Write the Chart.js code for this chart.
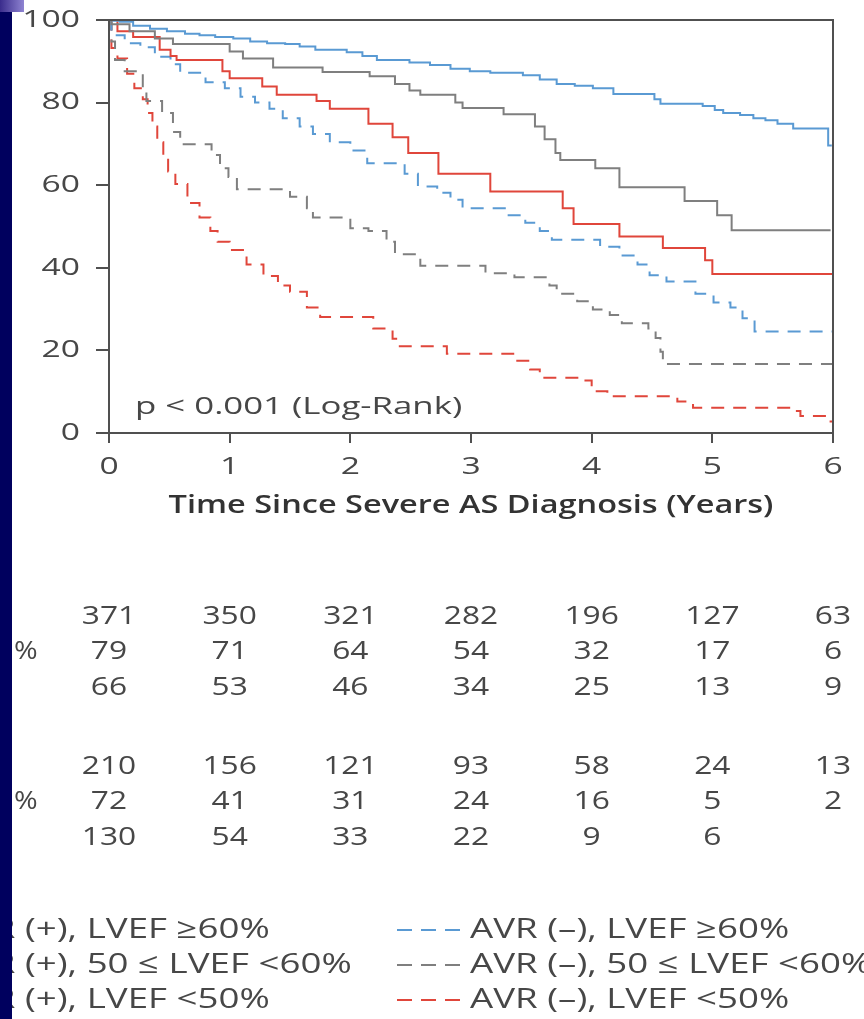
<!DOCTYPE html>
<html>
<head>
<meta charset="utf-8">
<script src="https://cdn.jsdelivr.net/npm/chart.js@4.4.1/dist/chart.umd.min.js"></script>
<style>
  html, body { margin: 0; padding: 0; background: #fff; }
  #wrap { position: relative; width: 864px; height: 1019px; overflow: hidden; }
  #bar { position: absolute; left: 0; top: 0; width: 12px; height: 1019px; background: #00005e; }
  #corner { position: absolute; left: 0; top: 0; width: 24px; height: 12px; background: linear-gradient(to right, #3a2c8c, #8f84d2); }
</style>
</head>
<body>
<div id="wrap">
  <canvas id="km" width="864" height="1019"></canvas>
  <div id="bar"></div>
  <div id="corner"></div>
</div>
<script>
// survival curves, time in years and event-free survival in %
const avrPosHighT = [0, 0.04, 0.09, 0.2, 0.34, 0.48, 0.63, 0.75, 0.88, 1.03, 1.17, 1.31, 1.46, 1.58, 1.71, 1.97, 2.1, 2.22, 2.49, 2.66, 2.83, 2.99, 3.16, 3.43, 3.57, 3.71, 3.86, 4.01, 4.18, 4.52, 4.57, 4.92, 5.02, 5.09, 5.23, 5.34, 5.44, 5.54, 5.67, 5.96, 5.99]
const avrPosHighS = [100, 99.8, 99.6, 98.6, 97.9, 97.3, 96.7, 96.3, 95.9, 95.5, 94.8, 94.4, 94.2, 93.6, 92.8, 92.2, 91.3, 90.3, 89.7, 89.1, 88.2, 87.6, 87.2, 86.6, 85.6, 84.5, 84.1, 83.5, 82.1, 80.8, 79.7, 79.2, 78.2, 77.5, 77.0, 76.2, 75.7, 74.9, 73.7, 69.6, 69.6]

const avrPosMidT = [0, 0.02, 0.17, 0.38, 0.53, 1.0, 1.11, 1.36, 1.77, 2.16, 2.37, 2.49, 2.58, 2.87, 2.93, 3.27, 3.53, 3.61, 3.7, 3.74, 4.03, 4.23, 4.77, 5.04, 5.16, 5.98]
const avrPosMidS = [100, 99.0, 97.3, 95.5, 94.2, 92.4, 90.7, 88.5, 87.4, 86.4, 84.5, 82.9, 81.9, 80.0, 78.7, 77.2, 74.2, 71.1, 67.8, 66.1, 64.1, 59.5, 56.2, 52.7, 49.1, 49.1]

const avrPosLowT = [0, 0.07, 0.2, 0.42, 0.51, 0.56, 0.94, 1.0, 1.27, 1.39, 1.72, 1.83, 2.15, 2.35, 2.48, 2.73, 3.16, 3.76, 3.85, 4.23, 4.59, 4.94, 5.0, 6.0]
const avrPosLowS = [100, 97.3, 95.9, 92.8, 91.3, 90.3, 87.6, 85.9, 83.9, 81.9, 80.4, 78.5, 74.9, 71.6, 67.8, 62.8, 58.5, 54.4, 50.6, 47.6, 44.8, 41.8, 38.5, 38.5]

const avrNegHighT = [0, 0.02, 0.13, 0.26, 0.38, 0.51, 0.59, 0.8, 0.96, 1.09, 1.21, 1.33, 1.44, 1.58, 1.69, 1.83, 2.0, 2.14, 2.45, 2.56, 2.72, 2.83, 2.93, 3.28, 3.45, 3.57, 3.67, 4.07, 4.23, 4.38, 4.48, 4.62, 4.86, 5.01, 5.15, 5.25, 5.35, 6.0]
const avrNegHighS = [100, 96.3, 94.4, 93.4, 91.1, 89.3, 87.2, 84.9, 83.5, 81.4, 80.0, 78.5, 76.2, 74.2, 72.4, 70.4, 68.4, 65.3, 62.8, 59.7, 58.2, 56.5, 54.4, 52.7, 50.9, 48.9, 46.8, 45.1, 43.0, 40.8, 38.2, 36.7, 33.7, 31.6, 30.4, 27.8, 24.6, 24.6]

const avrNegMidT = [0, 0.02, 0.05, 0.13, 0.28, 0.31, 0.44, 0.53, 0.59, 0.85, 0.92, 0.99, 1.06, 1.5, 1.64, 1.69, 2.0, 2.15, 2.3, 2.37, 2.58, 3.12, 3.36, 3.65, 3.71, 3.88, 4.01, 4.15, 4.25, 4.47, 4.53, 4.57, 4.59, 6.0]
const avrNegMidS = [100, 94.8, 90.3, 87.6, 82.5, 80.4, 77.5, 72.9, 69.9, 67.3, 64.1, 62.0, 59.0, 57.2, 54.4, 52.2, 49.6, 48.9, 46.3, 43.3, 40.5, 38.7, 37.7, 35.7, 33.7, 31.9, 29.9, 28.6, 26.6, 25.3, 23.0, 19.7, 16.7, 16.7]

const avrNegLowT = [0, 0.02, 0.07, 0.15, 0.21, 0.28, 0.32, 0.36, 0.4, 0.45, 0.49, 0.55, 0.65, 0.75, 0.84, 0.9, 1.0, 1.14, 1.28, 1.4, 1.5, 1.64, 1.75, 2.19, 2.35, 2.41, 2.8, 3.35, 3.49, 3.57, 3.93, 4.0, 4.13, 4.71, 4.84, 5.69, 5.73, 5.98, 6.0]
const avrNegLowS = [100, 93.2, 90.7, 87.0, 83.5, 80.8, 77.5, 74.2, 70.4, 66.6, 63.3, 60.3, 55.7, 52.2, 48.9, 46.3, 44.3, 40.8, 38.0, 35.7, 34.2, 30.4, 28.1, 25.3, 22.8, 21.0, 19.2, 17.5, 15.4, 13.4, 12.7, 10.1, 8.9, 7.6, 6.1, 5.3, 4.1, 2.8, 2.8]

// numbers at risk, one value per year tick
const riskPosTotal = [371, 350, 321, 282, 196, 127, 63]
const riskPosMid = [79, 71, 64, 54, 32, 17, 6]
const riskPosLow = [66, 53, 46, 34, 25, 13, 9]
const riskNegTotal = [210, 156, 121, 93, 58, 24, 13]
const riskNegMid = [72, 41, 31, 24, 16, 5, 2]
const riskNegLow = [130, 54, 33, 22, 9, 6]

const legendLeft = ['AVR (+), LVEF \u226560%', 'AVR (+), 50 \u2264 LVEF <60%', 'AVR (+), LVEF <50%']
const legendRight = ['AVR (\u2013), LVEF \u226560%', 'AVR (\u2013), 50 \u2264 LVEF <60%', 'AVR (\u2013), LVEF <50%']

const BLUE = '#5a9ad3'
const GRAY = '#7f7f7f'
const RED = '#e0463b'
const AXIS = '#505050'
const TEXT = '#474747'
const FONT = "'Open Sans', 'Noto Sans', sans-serif"

const toPoints = (t, s) => t.map((x, i) => ({ x: x, y: s[i] }))

const series = [
  { t: avrPosHighT, s: avrPosHighS, color: BLUE, dash: [] },
  { t: avrPosMidT, s: avrPosMidS, color: GRAY, dash: [] },
  { t: avrPosLowT, s: avrPosLowS, color: RED, dash: [] },
  { t: avrNegHighT, s: avrNegHighS, color: BLUE, dash: [13, 9] },
  { t: avrNegMidT, s: avrNegMidS, color: GRAY, dash: [13, 9] },
  { t: avrNegLowT, s: avrNegLowS, color: RED, dash: [13, 9] }
]

// the source figure is stretched sideways, so text is drawn wider than its font
function wideText(ctx, text, x, y, sx, align) {
  ctx.save()
  ctx.translate(x, y)
  ctx.scale(sx, 1)
  ctx.textAlign = align
  ctx.fillText(text, 0, 0)
  ctx.restore()
}

const extras = {
  id: 'extras',
  afterDraw(chart) {
    const { ctx, chartArea } = chart
    const xs = chart.scales.x
    const ys = chart.scales.y
    ctx.save()

    // top and right frame
    ctx.strokeStyle = AXIS
    ctx.lineWidth = 2
    ctx.beginPath()
    ctx.moveTo(chartArea.left, chartArea.top)
    ctx.lineTo(chartArea.right, chartArea.top)
    ctx.lineTo(chartArea.right, chartArea.bottom)
    ctx.stroke()

    ctx.fillStyle = TEXT
    ctx.textBaseline = 'middle'

    // tick labels
    ctx.font = '24px ' + FONT
    ys.ticks.forEach(t => wideText(ctx, String(t.value), 80, ys.getPixelForValue(t.value), 1.4, 'right'))
    xs.ticks.forEach(t => wideText(ctx, String(t.value), xs.getPixelForValue(t.value), 467, 1.4, 'center'))

    // axis title
    ctx.fillStyle = '#333'
    ctx.font = '600 25px ' + FONT
    wideText(ctx, 'Time Since Severe AS Diagnosis (Years)', (chartArea.left + chartArea.right) / 2, 506, 1.3, 'center')

    ctx.fillStyle = TEXT
    ctx.font = '24px ' + FONT
    wideText(ctx, 'p < 0.001 (Log-Rank)', 135, 407, 1.45, 'left')

    // number at risk table
    const rows = [
      [riskPosTotal, 617], [riskPosMid, 652], [riskPosLow, 688],
      [riskNegTotal, 767], [riskNegMid, 802], [riskNegLow, 838]
    ]
    ctx.font = '26px ' + FONT
    rows.forEach(([vals, y]) => {
      vals.forEach((v, i) => wideText(ctx, String(v), xs.getPixelForValue(i), y, 1.22, 'center'))
    })
    wideText(ctx, '%', 14, 652, 1.1, 'left')
    wideText(ctx, '%', 14, 802, 1.1, 'left')

    // legend
    const legendY = [930, 965, 1000]
    const sx = 1.31
    ctx.font = '28px ' + FONT
    const pre = ctx.measureText('AVR ').width * sx
    legendLeft.forEach((txt, i) => wideText(ctx, txt, 25 - pre, legendY[i], sx, 'left'))
    const dashColors = [BLUE, GRAY, RED]
    legendRight.forEach((txt, i) => {
      ctx.strokeStyle = dashColors[i]
      ctx.lineWidth = 2
      ctx.setLineDash([15, 9])
      ctx.beginPath()
      ctx.moveTo(397, legendY[i])
      ctx.lineTo(460, legendY[i])
      ctx.stroke()
      ctx.setLineDash([])
      wideText(ctx, txt, 470, legendY[i], sx, 'left')
    })
    ctx.restore()
  }
}

new Chart(document.getElementById('km'), {
  type: 'line',
  data: {
    datasets: series.map(d => ({
      data: toPoints(d.t, d.s),
      borderColor: d.color,
      borderWidth: 2,
      borderDash: d.dash,
      pointRadius: 0,
      stepped: true,
      fill: false
    }))
  },
  options: {
    responsive: false,
    animation: false,
    devicePixelRatio: 1,
    layout: { padding: { top: 20, right: 31, bottom: 498, left: 0 } },
    plugins: { legend: { display: false }, tooltip: { enabled: false } },
    scales: {
      x: {
        type: 'linear',
        min: 0,
        max: 6,
        ticks: { stepSize: 1, display: false },
        grid: { drawOnChartArea: false, tickLength: 10, color: AXIS, lineWidth: 2 },
        border: { color: AXIS, width: 2 },
        afterFit: s => { s.height = 88 }
      },
      y: {
        min: 0,
        max: 100,
        ticks: { stepSize: 20, display: false },
        grid: { drawOnChartArea: false, tickLength: 13, color: AXIS, lineWidth: 2 },
        border: { color: AXIS, width: 2 },
        afterFit: s => { s.width = 109 }
      }
    }
  },
  plugins: [extras]
})
</script>
</body>
</html>
